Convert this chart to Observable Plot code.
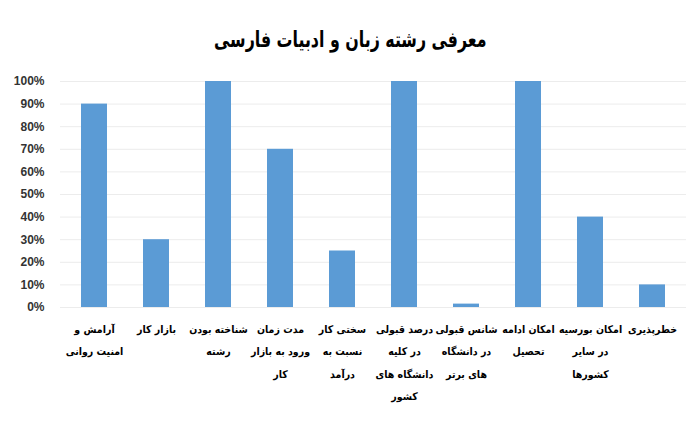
<!DOCTYPE html>
<html>
<head>
<meta charset="utf-8">
<script src="https://cdn.jsdelivr.net/npm/d3@7"></script>
<script src="https://cdn.jsdelivr.net/npm/@observablehq/plot@0.6"></script>
<style>
  html, body { margin: 0; padding: 0; background: #fff; }
  #chart { width: 700px; }
  .title {
    height: 62px;
    box-sizing: border-box;
    padding-top: 28px;
    text-align: center;
  }
  .title span {
    display: inline-block;
    direction: rtl;
    transform: scaleX(0.8);
    font-family: "DejaVu Sans Condensed", "DejaVu Sans", sans-serif;
    font-weight: bold;
    font-size: 22px;
    line-height: 24px;
    color: #000;
  }
</style>
</head>
<body>
<div id="chart"></div>
<script>
// Chart title
const title = "معرفی رشته زبان و ادبیات فارسی";

// Categories (line breaks as shown under each bar)
const categories = [
  "آرامش و\nامنیت روانی",
  "بازار کار",
  "شناخته بودن\nرشته",
  "مدت زمان\nورود به بازار\nکار",
  "سختی کار\nنسبت به\nدرآمد",
  "درصد قبولی\nدر کلیه\nدانشگاه های\nکشور",
  "شانس قبولی\nدر دانشگاه\nهای برتر",
  "امکان ادامه\nتحصیل",
  "امکان بورسیه\nدر سایر\nکشورها",
  "خطرپذیری"
];

// Score of each category, in percent
const values = [90, 30, 100, 70, 25, 100, 1.5, 100, 40, 10];

// Y axis tick values, in percent
const yTicks = [0, 10, 20, 30, 40, 50, 60, 70, 80, 90, 100];

const data = categories.map((c, i) => ({category: c, value: values[i]}));

const container = document.getElementById("chart");

const head = document.createElement("div");
head.className = "title";
const headText = document.createElement("span");
headText.textContent = title;
head.appendChild(headText);
container.appendChild(head);

const chart = Plot.plot({
  width: 700,
  height: 360,
  marginTop: 19,
  marginBottom: 115,
  marginLeft: 60,
  marginRight: 14,
  style: {background: "#fff", overflow: "visible"},
  x: {domain: categories, paddingInner: 0.585, paddingOuter: 0.2925, label: null},
  y: {domain: [0, 100], label: null},
  marks: [
    Plot.gridY(yTicks, {stroke: "#ececec", strokeOpacity: 1, strokeWidth: 1}),
    Plot.barY(data, {x: "category", y: "value", fill: "#5B9BD5"}),
    Plot.axisY({
      ticks: yTicks,
      tickSize: 0,
      tickPadding: 16,
      tickFormat: d => d + "%",
      fontSize: 12,
      fontWeight: "bold",
      fontFamily: "Liberation Sans Narrow, Liberation Sans, Arial, sans-serif",
      fill: "#333",
      label: null
    }),
    Plot.axisX({
      tickSize: 0,
      tickPadding: 9,
      fontSize: 10.5,
      fontWeight: "bold",
      fontFamily: "DejaVu Sans Condensed, DejaVu Sans, sans-serif",
      fontStretch: "condensed",
      lineHeight: 2.15,
      fill: "#000",
      label: null
    })
  ]
});
container.appendChild(chart);
</script>
</body>
</html>
